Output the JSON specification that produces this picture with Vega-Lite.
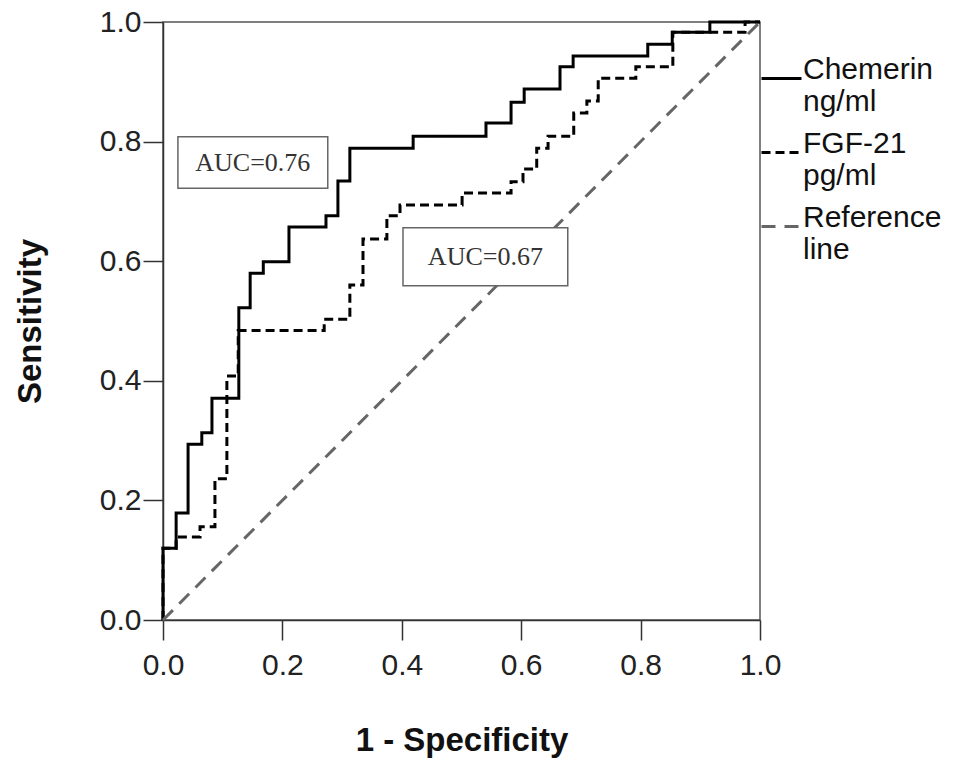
{
  "$schema": "https://vega.github.io/schema/vega-lite/v6.json",
  "width": 597,
  "height": 598,
  "autosize": "none",
  "padding": {"left": 163, "top": 22, "right": 209, "bottom": 157},
  "background": "white",
  "config": {
    "font": "Liberation Sans",
    "view": {"stroke": "#555", "strokeWidth": 1.5}
  },
  "datasets": {
    "roc": [
      {"series": "Chemerin", "i": 0, "fpr": 0, "tpr": 0},
      {"series": "Chemerin", "i": 1, "fpr": 0, "tpr": 0.12},
      {"series": "Chemerin", "i": 2, "fpr": 0.022, "tpr": 0.12},
      {"series": "Chemerin", "i": 3, "fpr": 0.022, "tpr": 0.179},
      {"series": "Chemerin", "i": 4, "fpr": 0.042, "tpr": 0.179},
      {"series": "Chemerin", "i": 5, "fpr": 0.042, "tpr": 0.294},
      {"series": "Chemerin", "i": 6, "fpr": 0.065, "tpr": 0.294},
      {"series": "Chemerin", "i": 7, "fpr": 0.065, "tpr": 0.313},
      {"series": "Chemerin", "i": 8, "fpr": 0.082, "tpr": 0.313},
      {"series": "Chemerin", "i": 9, "fpr": 0.082, "tpr": 0.371},
      {"series": "Chemerin", "i": 10, "fpr": 0.127, "tpr": 0.371},
      {"series": "Chemerin", "i": 11, "fpr": 0.127, "tpr": 0.522},
      {"series": "Chemerin", "i": 12, "fpr": 0.146, "tpr": 0.522},
      {"series": "Chemerin", "i": 13, "fpr": 0.146, "tpr": 0.58},
      {"series": "Chemerin", "i": 14, "fpr": 0.168, "tpr": 0.58},
      {"series": "Chemerin", "i": 15, "fpr": 0.168, "tpr": 0.599},
      {"series": "Chemerin", "i": 16, "fpr": 0.211, "tpr": 0.599},
      {"series": "Chemerin", "i": 17, "fpr": 0.211, "tpr": 0.657},
      {"series": "Chemerin", "i": 18, "fpr": 0.273, "tpr": 0.657},
      {"series": "Chemerin", "i": 19, "fpr": 0.273, "tpr": 0.676},
      {"series": "Chemerin", "i": 20, "fpr": 0.293, "tpr": 0.676},
      {"series": "Chemerin", "i": 21, "fpr": 0.293, "tpr": 0.734},
      {"series": "Chemerin", "i": 22, "fpr": 0.313, "tpr": 0.734},
      {"series": "Chemerin", "i": 23, "fpr": 0.313, "tpr": 0.789},
      {"series": "Chemerin", "i": 24, "fpr": 0.419, "tpr": 0.789},
      {"series": "Chemerin", "i": 25, "fpr": 0.419, "tpr": 0.809},
      {"series": "Chemerin", "i": 26, "fpr": 0.541, "tpr": 0.809},
      {"series": "Chemerin", "i": 27, "fpr": 0.541, "tpr": 0.831},
      {"series": "Chemerin", "i": 28, "fpr": 0.583, "tpr": 0.831},
      {"series": "Chemerin", "i": 29, "fpr": 0.583, "tpr": 0.866},
      {"series": "Chemerin", "i": 30, "fpr": 0.605, "tpr": 0.866},
      {"series": "Chemerin", "i": 31, "fpr": 0.605, "tpr": 0.888},
      {"series": "Chemerin", "i": 32, "fpr": 0.665, "tpr": 0.888},
      {"series": "Chemerin", "i": 33, "fpr": 0.665, "tpr": 0.925},
      {"series": "Chemerin", "i": 34, "fpr": 0.687, "tpr": 0.925},
      {"series": "Chemerin", "i": 35, "fpr": 0.687, "tpr": 0.943},
      {"series": "Chemerin", "i": 36, "fpr": 0.812, "tpr": 0.943},
      {"series": "Chemerin", "i": 37, "fpr": 0.812, "tpr": 0.963},
      {"series": "Chemerin", "i": 38, "fpr": 0.853, "tpr": 0.963},
      {"series": "Chemerin", "i": 39, "fpr": 0.853, "tpr": 0.983},
      {"series": "Chemerin", "i": 40, "fpr": 0.916, "tpr": 0.983},
      {"series": "Chemerin", "i": 41, "fpr": 0.916, "tpr": 1.0},
      {"series": "Chemerin", "i": 42, "fpr": 1.0, "tpr": 1.0},
      {"series": "FGF-21", "i": 0, "fpr": 0, "tpr": 0},
      {"series": "FGF-21", "i": 1, "fpr": 0, "tpr": 0.12},
      {"series": "FGF-21", "i": 2, "fpr": 0.022, "tpr": 0.12},
      {"series": "FGF-21", "i": 3, "fpr": 0.022, "tpr": 0.139},
      {"series": "FGF-21", "i": 4, "fpr": 0.062, "tpr": 0.139},
      {"series": "FGF-21", "i": 5, "fpr": 0.062, "tpr": 0.156},
      {"series": "FGF-21", "i": 6, "fpr": 0.087, "tpr": 0.156},
      {"series": "FGF-21", "i": 7, "fpr": 0.087, "tpr": 0.236},
      {"series": "FGF-21", "i": 8, "fpr": 0.107, "tpr": 0.236},
      {"series": "FGF-21", "i": 9, "fpr": 0.107, "tpr": 0.408},
      {"series": "FGF-21", "i": 10, "fpr": 0.126, "tpr": 0.408},
      {"series": "FGF-21", "i": 11, "fpr": 0.126, "tpr": 0.484},
      {"series": "FGF-21", "i": 12, "fpr": 0.27, "tpr": 0.484},
      {"series": "FGF-21", "i": 13, "fpr": 0.27, "tpr": 0.503},
      {"series": "FGF-21", "i": 14, "fpr": 0.313, "tpr": 0.503},
      {"series": "FGF-21", "i": 15, "fpr": 0.313, "tpr": 0.56},
      {"series": "FGF-21", "i": 16, "fpr": 0.335, "tpr": 0.56},
      {"series": "FGF-21", "i": 17, "fpr": 0.335, "tpr": 0.637},
      {"series": "FGF-21", "i": 18, "fpr": 0.375, "tpr": 0.637},
      {"series": "FGF-21", "i": 19, "fpr": 0.375, "tpr": 0.676},
      {"series": "FGF-21", "i": 20, "fpr": 0.397, "tpr": 0.676},
      {"series": "FGF-21", "i": 21, "fpr": 0.397, "tpr": 0.694},
      {"series": "FGF-21", "i": 22, "fpr": 0.501, "tpr": 0.694},
      {"series": "FGF-21", "i": 23, "fpr": 0.501, "tpr": 0.714},
      {"series": "FGF-21", "i": 24, "fpr": 0.583, "tpr": 0.714},
      {"series": "FGF-21", "i": 25, "fpr": 0.583, "tpr": 0.733},
      {"series": "FGF-21", "i": 26, "fpr": 0.603, "tpr": 0.733},
      {"series": "FGF-21", "i": 27, "fpr": 0.603, "tpr": 0.754},
      {"series": "FGF-21", "i": 28, "fpr": 0.626, "tpr": 0.754},
      {"series": "FGF-21", "i": 29, "fpr": 0.626, "tpr": 0.789},
      {"series": "FGF-21", "i": 30, "fpr": 0.645, "tpr": 0.789},
      {"series": "FGF-21", "i": 31, "fpr": 0.645, "tpr": 0.809},
      {"series": "FGF-21", "i": 32, "fpr": 0.688, "tpr": 0.809},
      {"series": "FGF-21", "i": 33, "fpr": 0.688, "tpr": 0.848},
      {"series": "FGF-21", "i": 34, "fpr": 0.71, "tpr": 0.848},
      {"series": "FGF-21", "i": 35, "fpr": 0.71, "tpr": 0.868},
      {"series": "FGF-21", "i": 36, "fpr": 0.729, "tpr": 0.868},
      {"series": "FGF-21", "i": 37, "fpr": 0.729, "tpr": 0.906},
      {"series": "FGF-21", "i": 38, "fpr": 0.792, "tpr": 0.906},
      {"series": "FGF-21", "i": 39, "fpr": 0.792, "tpr": 0.925},
      {"series": "FGF-21", "i": 40, "fpr": 0.854, "tpr": 0.925},
      {"series": "FGF-21", "i": 41, "fpr": 0.854, "tpr": 0.983},
      {"series": "FGF-21", "i": 42, "fpr": 0.975, "tpr": 0.983},
      {"series": "FGF-21", "i": 43, "fpr": 0.975, "tpr": 1.0},
      {"series": "FGF-21", "i": 44, "fpr": 1.0, "tpr": 1.0},
      {"series": "Reference line", "i": 0, "fpr": 0, "tpr": 0},
      {"series": "Reference line", "i": 1, "fpr": 1, "tpr": 1}
    ],
    "auc": [
      {"label": "AUC=0.76", "x1": 0.025, "x2": 0.276, "y1": 0.722, "y2": 0.808, "xc": 0.1505, "yc": 0.765},
      {"label": "AUC=0.67", "x1": 0.402, "x2": 0.678, "y1": 0.559, "y2": 0.656, "xc": 0.54, "yc": 0.607}
    ]
  },
  "layer": [
    {
      "data": {"name": "roc"},
      "mark": {"type": "line", "strokeCap": "butt", "strokeJoin": "miter"},
      "encoding": {
        "x": {
          "field": "fpr",
          "type": "quantitative",
          "scale": {"domain": [0, 1], "nice": false, "zero": false},
          "axis": {
            "title": "1 - Specificity",
            "values": [0, 0.2, 0.4, 0.6, 0.8, 1.0],
            "format": ".1f",
            "grid": false,
            "domainColor": "#333",
            "domainWidth": 1.5,
            "tickColor": "#333",
            "tickWidth": 1.5,
            "tickSize": 20,
            "labelFontSize": 30,
            "labelColor": "#222",
            "labelPadding": 10,
            "labelFlush": false,
            "titleFontSize": 33,
            "titleFontWeight": "bold",
            "titleColor": "#111",
            "titlePadding": 44
          }
        },
        "y": {
          "field": "tpr",
          "type": "quantitative",
          "scale": {"domain": [0, 1], "nice": false, "zero": false},
          "axis": {
            "title": "Sensitivity",
            "values": [0, 0.2, 0.4, 0.6, 0.8, 1.0],
            "format": ".1f",
            "grid": false,
            "domainColor": "#333",
            "domainWidth": 1.5,
            "tickColor": "#333",
            "tickWidth": 1.5,
            "tickSize": 20,
            "labelFontSize": 30,
            "labelColor": "#222",
            "labelPadding": 2,
            "labelFlush": false,
            "titleFontSize": 33,
            "titleFontWeight": "bold",
            "titleColor": "#111",
            "titlePadding": 52
          }
        },
        "order": {"field": "i", "type": "quantitative"},
        "color": {
          "field": "series",
          "type": "nominal",
          "scale": {"domain": ["Chemerin", "FGF-21", "Reference line"], "range": ["#000000", "#000000", "#666666"]},
          "legend": {
            "title": null,
            "orient": "none",
            "legendX": 597,
            "legendY": 35,
            "padding": 0,
            "symbolType": "stroke",
            "symbolSize": 1600,
            "labelFontSize": 30,
            "labelColor": "#111",
            "labelOffset": 0,
            "labelBaseline": "alphabetic",
            "rowPadding": 11,
            "labelExpr": "datum.label == 'Chemerin' ? ['Chemerin', 'ng/ml'] : datum.label == 'FGF-21' ? ['FGF-21', 'pg/ml'] : ['Reference', 'line']"
          }
        },
        "strokeDash": {
          "field": "series",
          "type": "nominal",
          "scale": {"domain": ["Chemerin", "FGF-21", "Reference line"], "range": [[1, 0], [9, 5], [14, 9]]},
          "legend": null
        },
        "strokeWidth": {
          "field": "series",
          "type": "ordinal",
          "scale": {"domain": ["Chemerin", "FGF-21", "Reference line"], "range": [3, 3, 1.5]},
          "legend": null
        }
      }
    },
    {
      "data": {"name": "auc"},
      "mark": {"type": "rect", "fill": "white", "stroke": "#666", "strokeWidth": 1.5},
      "encoding": {
        "x": {"field": "x1", "type": "quantitative"},
        "x2": {"field": "x2"},
        "y": {"field": "y1", "type": "quantitative"},
        "y2": {"field": "y2"}
      }
    },
    {
      "data": {"name": "auc"},
      "mark": {"type": "text", "font": "Liberation Serif", "fontSize": 26, "color": "#333", "align": "center", "baseline": "middle"},
      "encoding": {
        "x": {"field": "xc", "type": "quantitative"},
        "y": {"field": "yc", "type": "quantitative"},
        "text": {"field": "label"}
      }
    }
  ]
}
